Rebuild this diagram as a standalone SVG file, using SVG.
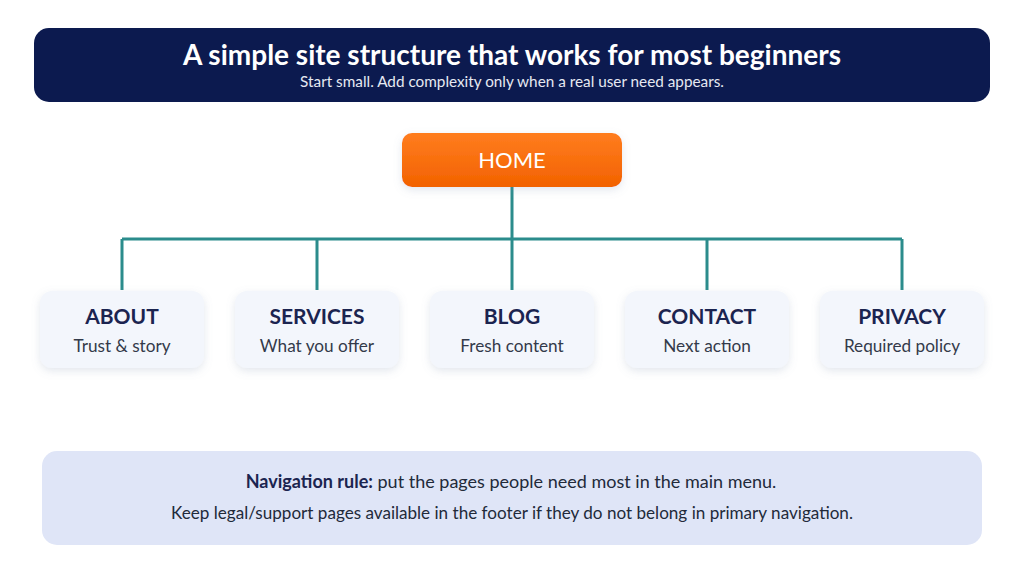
<svg xmlns="http://www.w3.org/2000/svg" width="1024" height="572" viewBox="0 0 1024 572">
<style>
text{font-family:Lato,"Noto Sans","Liberation Sans",sans-serif;text-anchor:middle}
.t{font-size:21px;font-weight:bold;fill:#1b2450}
.s{font-size:17.2px;fill:#333a4a}
.card{fill:#f3f6fc;filter:url(#sh)}
.c{stroke:#2b8c8c;stroke-width:3;fill:none}
.n{fill:#222a3a}
</style>
<defs>
<linearGradient id="og" x1="0" y1="0" x2="0" y2="1"><stop offset="0" stop-color="#ff7d1e"/><stop offset="1" stop-color="#f26200"/></linearGradient>
<filter id="sh" x="-20%" y="-20%" width="140%" height="150%"><feDropShadow dx="0" dy="3" stdDeviation="4" flood-color="#8090b0" flood-opacity="0.22"/></filter>
</defs>
<rect width="1024" height="572" fill="#ffffff"/>
<g id="header">
<rect x="34" y="28" width="956" height="74" rx="15" fill="#0c1a4f"/>
<text x="512" y="65" font-size="28" font-weight="bold" fill="#ffffff">A simple site structure that works for most beginners</text>
<text x="512" y="87" font-size="15.3" fill="#e6e9f2">Start small. Add complexity only when a real user need appears.</text>
</g>
<g id="connectors">
<path class="c" d="M512 187V290M122 239H902M122 239V290M317 239V290M707 239V290M902 239V290"/>
</g>
<g id="home">
<rect x="402" y="133" width="220" height="54" rx="10" fill="url(#og)" filter="url(#sh)"/>
<text x="512" y="168" font-size="22" fill="#ffffff">HOME</text>
</g>
<g id="about"><rect class="card" x="40" y="291" width="164" height="77" rx="12"/><text class="t" x="122" y="324">ABOUT</text><text class="s" x="122" y="352">Trust &amp; story</text></g>
<g id="services"><rect class="card" x="235" y="291" width="164" height="77" rx="12"/><text class="t" x="317" y="324">SERVICES</text><text class="s" x="317" y="352">What you offer</text></g>
<g id="blog"><rect class="card" x="430" y="291" width="164" height="77" rx="12"/><text class="t" x="512" y="324">BLOG</text><text class="s" x="512" y="352">Fresh content</text></g>
<g id="contact"><rect class="card" x="625" y="291" width="164" height="77" rx="12"/><text class="t" x="707" y="324">CONTACT</text><text class="s" x="707" y="352">Next action</text></g>
<g id="privacy"><rect class="card" x="820" y="291" width="164" height="77" rx="12"/><text class="t" x="902" y="324">PRIVACY</text><text class="s" x="902" y="352">Required policy</text></g>
<g id="rule">
<rect x="42" y="451" width="940" height="94" rx="15" fill="#dfe5f7"/>
<text class="n" x="511" y="488" font-size="18"><tspan font-weight="bold" fill="#1b2450">Navigation rule:</tspan> put the pages people need most in the main menu.</text>
<text class="n" x="512" y="519" font-size="17.1">Keep legal/support pages available in the footer if they do not belong in primary navigation.</text>
</g>
</svg>
